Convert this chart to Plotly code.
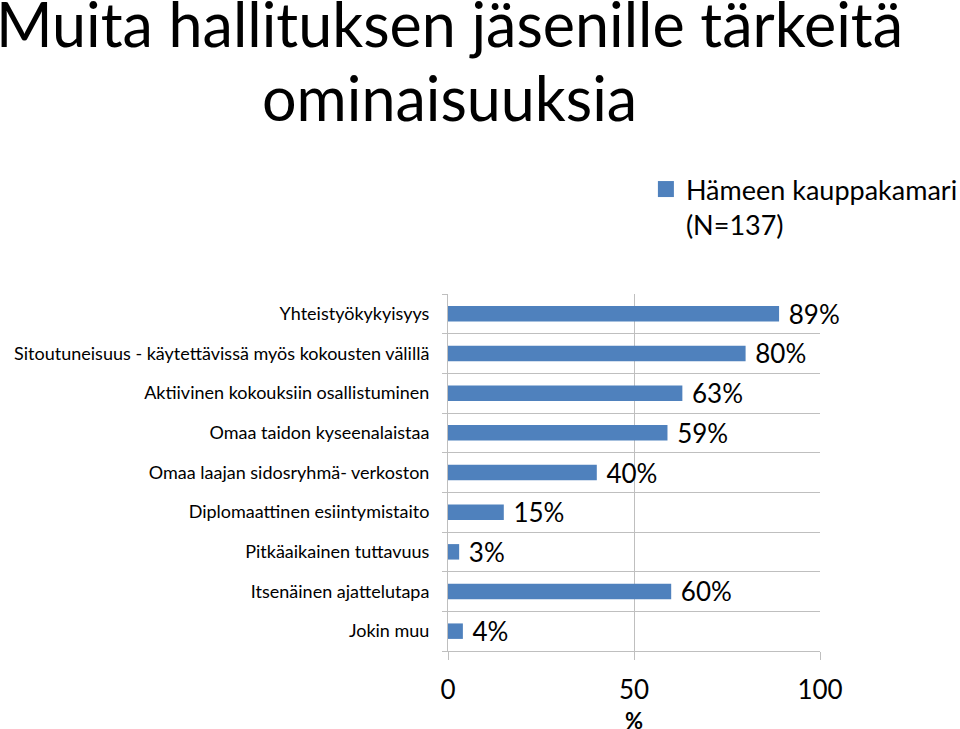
import plotly.graph_objects as go

categories = [
    "Yhteistyökykyisyys",
    "Sitoutuneisuus - käytettävissä myös kokousten välillä",
    "Aktiivinen kokouksiin osallistuminen",
    "Omaa taidon kyseenalaistaa",
    "Omaa laajan sidosryhmä- verkoston",
    "Diplomaattinen esiintymistaito",
    "Pitkäaikainen tuttavuus",
    "Itsenäinen ajattelutapa",
    "Jokin muu",
]
values = [89, 80, 63, 59, 40, 15, 3, 60, 4]
series_name = "Hämeen kauppakamari<br>(N=137)"
title_lines = ["Muita hallituksen jäsenille tärkeitä", "ominaisuuksia"]
x_title = "%"
x_ticks = [0, 50, 100]

FONT = "Lato"
BLUE = "#4F81BD"
GRID = "#BFBFBF"

ypos = list(range(len(categories)))

fig = go.Figure()
fig.add_trace(go.Bar(
    x=values, y=ypos, orientation="h", name=series_name,
    marker=dict(color=BLUE, line=dict(width=0)),
    width=0.39,
    text=[f" {v}%" for v in values], textposition="outside",
    constraintext="none",
    textfont=dict(size=26, color="#000000", family=FONT),
    cliponaxis=False,
    showlegend=False,
))
# legend entry with a larger square symbol
fig.add_trace(go.Scatter(
    x=[None], y=[None], mode="markers", name=series_name,
    marker=dict(symbol="square", size=17, color=BLUE),
    showlegend=True,
))

plot_top, plot_bottom, plot_left, plot_right = 294, 651, 448, 820
def px_to_paper_x(px):
    return (px - plot_left) / (plot_right - plot_left)
def px_to_paper_y(py):
    return (plot_bottom - py) / (plot_bottom - plot_top)

fig.update_layout(
    width=960, height=729,
    margin=dict(l=plot_left, r=960 - plot_right, t=plot_top, b=729 - plot_bottom,
                autoexpand=False),
    paper_bgcolor="white", plot_bgcolor="white",
    font=dict(family=FONT, color="#000000"),
    legend=dict(x=0.532, y=px_to_paper_y(165), xanchor="left", yanchor="top",
                font=dict(size=27, family=FONT, color="#000000"),
                bgcolor="rgba(0,0,0,0)", itemsizing="trace", valign="top",
                itemwidth=30, tracegroupgap=0),
    bargap=0.6,
)
fig.add_annotation(text=title_lines[0], xref="paper", yref="paper",
                   x=px_to_paper_x(449), xanchor="center",
                   y=px_to_paper_y(23), yanchor="middle",
                   showarrow=False, font=dict(size=61, family=FONT, color="#000000"))
fig.add_annotation(text=title_lines[1], xref="paper", yref="paper",
                   x=px_to_paper_x(449), xanchor="center",
                   y=px_to_paper_y(97), yanchor="middle",
                   showarrow=False, font=dict(size=61, family=FONT, color="#000000"))
# x-axis title
fig.add_annotation(text=f"<b>{x_title}</b>", xref="paper", yref="paper",
                   x=0.5, xanchor="center",
                   y=px_to_paper_y(720), yanchor="middle",
                   showarrow=False, font=dict(size=22, family=FONT, color="#000000"))

fig.update_xaxes(
    range=[0, 100], tickvals=x_ticks, ticktext=[str(t) for t in x_ticks],
    showgrid=True, gridcolor=GRID, gridwidth=1,
    ticks="outside", ticklen=8, tickcolor=GRID,
    showline=True, linecolor=GRID, zeroline=False,
    tickfont=dict(size=26, family=FONT, color="#000000"),
    ticklabelstandoff=8,
)
fig.update_yaxes(
    range=[len(categories) - 0.5, -0.5],
    tickvals=ypos, ticktext=categories,
    showgrid=False, ticks="", zeroline=False,
    showline=True, linecolor=GRID, mirror=False,
    tickfont=dict(size=18, family=FONT, color="#000000"),
    ticklabelstandoff=14,
    minor=dict(tickvals=[i + 0.5 for i in range(-1, len(categories))],
               showgrid=True, gridcolor=GRID, gridwidth=1,
               ticks="outside", ticklen=5, tickcolor=GRID),
)

fig.write_html("out.html")
